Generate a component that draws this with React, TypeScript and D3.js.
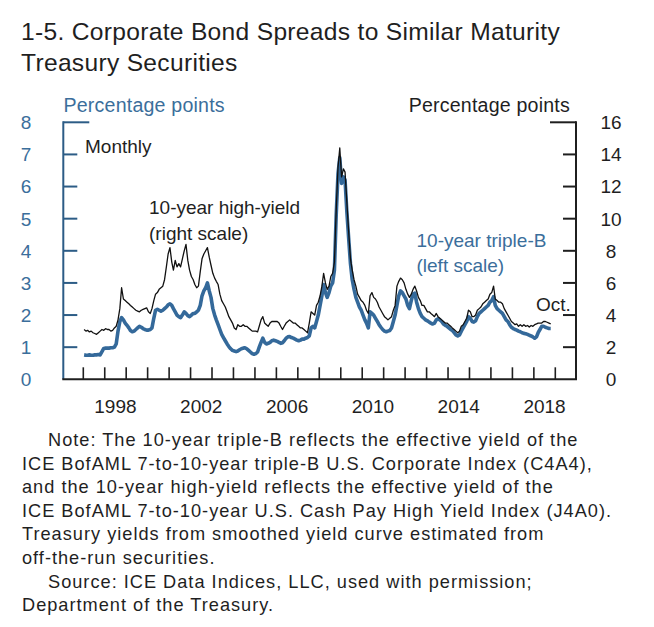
import React from "react";
import * as d3 from "d3";

// ---- data (monthly, Jan 1997 – Oct 2018) ----
const startYear = 1997;
const lastMonthIndex = 2018 * 12 + 9 - startYear * 12; // Oct 2018

// 10-year triple-B spread, percentage points (left scale)
const tripleB: number[] = [
  // 1997
  0.76, 0.75, 0.75, 0.76, 0.75, 0.75, 0.76, 0.76, 0.77, 0.76, 0.86, 0.96,
  // 1998
  0.97, 0.97, 0.97, 0.98, 0.98, 1.0, 1.1, 1.5, 1.8, 1.92, 1.85, 1.75,
  // 1999
  1.68, 1.6, 1.52, 1.48, 1.5, 1.55, 1.6, 1.65, 1.62, 1.58, 1.55, 1.53,
  // 2000
  1.53, 1.55, 1.6, 1.9, 2.15, 2.18, 2.15, 2.12, 2.15, 2.2, 2.25, 2.32,
  // 2001
  2.35, 2.3, 2.2, 2.1, 2.0, 1.95, 1.92, 2.0, 2.1, 2.05, 1.98, 1.95,
  // 2002
  2.0, 2.05, 2.05, 2.1, 2.15, 2.3, 2.6, 2.75, 2.85, 3.0, 2.75, 2.55,
  // 2003
  2.2, 2.0, 1.85, 1.7, 1.55, 1.4, 1.3, 1.2, 1.1, 1.02, 0.95, 0.9,
  // 2004
  0.88, 0.86, 0.88, 0.92, 0.95, 0.97, 0.98, 0.95, 0.9, 0.85, 0.8, 0.78,
  // 2005
  0.8, 0.85, 1.0, 1.15, 1.28, 1.15, 1.1, 1.12, 1.15, 1.2, 1.22, 1.2,
  // 2006
  1.18, 1.15, 1.12, 1.14, 1.2, 1.28, 1.32, 1.33, 1.3, 1.28, 1.25, 1.22,
  // 2007
  1.2, 1.22, 1.25, 1.25, 1.28, 1.3, 1.35, 1.6, 1.65, 1.6, 1.8, 2.0,
  // 2008
  2.3, 2.6, 2.95, 2.7, 2.55, 2.7, 2.9, 3.0, 3.4, 5.1, 6.4, 6.9,
  // 2009
  6.1, 6.3, 6.2, 5.2, 4.4, 3.6, 3.1, 2.8, 2.55, 2.4, 2.25, 2.15,
  // 2010
  2.0, 1.85, 1.75, 1.6, 2.1, 2.05, 2.0, 1.9, 1.8, 1.7, 1.62, 1.55,
  // 2011
  1.5, 1.48, 1.5, 1.52, 1.6, 1.8, 2.0, 2.3, 2.6, 2.75, 2.7, 2.6,
  // 2012
  2.5, 2.3, 2.2, 2.45, 2.65, 2.68, 2.4, 2.2, 2.05, 1.95, 1.9, 1.85,
  // 2013
  1.82, 1.78, 1.75, 1.72, 1.75, 1.85, 1.88, 1.85, 1.8, 1.72, 1.68, 1.65,
  // 2014
  1.6, 1.55, 1.52, 1.45, 1.38, 1.35, 1.38, 1.5, 1.6, 1.7, 1.8, 1.95,
  // 2015
  1.9, 1.8, 1.78, 1.82, 1.95, 2.05, 2.1, 2.15, 2.2, 2.25, 2.3, 2.4,
  // 2016
  2.45, 2.57, 2.3, 2.2, 2.15, 2.1, 2.05, 1.95, 1.85, 1.8, 1.7, 1.62,
  // 2017
  1.58, 1.55, 1.53, 1.5, 1.48, 1.45, 1.43, 1.42, 1.4, 1.37, 1.35, 1.32,
  // 2018
  1.28, 1.32, 1.45, 1.55, 1.65, 1.65, 1.62, 1.6, 1.58, 1.58,
];

// 10-year high-yield spread, percentage points (right scale)
const highYield: number[] = [
  // 1997
  3.1, 3.0, 3.05, 2.95, 3.0, 2.9, 2.85, 2.8, 2.9, 3.0, 3.1, 3.05,
  // 1998
  3.15, 3.1, 3.1, 3.0, 3.05, 3.2, 3.3, 3.7, 4.4, 5.7, 5.0, 4.9,
  // 1999
  4.8, 4.7, 4.6, 4.5, 4.4, 4.3, 4.25, 4.2, 4.3, 4.35, 4.4, 4.45,
  // 2000
  4.2, 4.1, 4.4, 4.9, 5.3, 5.4, 5.6, 5.7, 5.8, 6.2, 7.0, 7.8,
  // 2001
  8.2, 7.3, 6.8, 7.4, 7.0, 7.2, 7.0, 7.5, 8.0, 8.4, 7.4, 6.8,
  // 2002
  6.4, 6.2, 5.9, 5.7, 5.8, 6.7, 7.5, 7.8, 8.0, 8.2, 7.6, 7.1,
  // 2003
  6.6, 6.3, 6.1, 5.9, 5.3, 4.9, 4.7, 4.5, 4.2, 3.9, 3.7, 3.5,
  // 2004
  3.2, 3.1, 3.4, 3.3, 3.3, 3.4, 3.3, 3.3, 3.2, 3.1, 3.0, 3.0,
  // 2005
  3.0, 2.95, 3.3, 3.7, 3.9, 3.5, 3.4, 3.3, 3.5, 3.6, 3.6, 3.6,
  // 2006
  3.6, 3.5, 3.3, 3.1, 3.3, 3.5, 3.6, 3.7, 3.6, 3.5, 3.5, 3.4,
  // 2007
  3.3, 3.2, 3.2, 3.1, 3.0, 2.9, 3.5, 4.2, 4.1, 4.0, 4.6, 4.8,
  // 2008
  5.2, 5.8, 6.6, 6.0, 5.6, 5.8, 6.4, 6.6, 7.3, 10.5, 13.2, 14.4,
  // 2009
  12.6, 13.1, 12.9, 11.0, 9.2, 7.5, 6.8, 6.2, 5.8, 5.3, 5.1, 4.9,
  // 2010
  4.8, 4.6, 4.3, 4.1, 5.2, 5.4, 5.1, 5.0, 4.8, 4.5, 4.3, 4.1,
  // 2011
  3.9, 3.8, 3.7, 3.8, 3.9, 4.3, 4.6, 5.8, 6.1, 6.3, 6.2, 6.0,
  // 2012
  5.6, 5.3, 5.1, 5.3, 5.6, 5.8, 5.5, 5.1, 4.9, 4.6, 4.6, 4.4,
  // 2013
  4.2, 4.2, 4.1, 4.0, 3.9, 4.1, 3.9, 3.8, 3.7, 3.6, 3.5, 3.5,
  // 2014
  3.4, 3.3, 3.2, 3.1, 3.0, 2.9, 3.0, 3.3, 3.4, 3.6, 3.8, 4.3,
  // 2015
  4.2, 3.9, 3.9, 4.0, 4.3, 4.4, 4.5, 4.7, 4.8, 4.9, 5.0, 5.3,
  // 2016
  5.4, 5.8, 5.0, 4.9, 4.8, 4.8, 4.7, 4.4, 4.2, 4.0, 3.8, 3.6,
  // 2017
  3.5, 3.4, 3.45, 3.3, 3.4, 3.3, 3.4, 3.3, 3.35, 3.25, 3.35, 3.3,
  // 2018
  3.4, 3.45, 3.5, 3.5, 3.5, 3.6, 3.6, 3.55, 3.5, 3.45,
];

const leftTicks = [0, 1, 2, 3, 4, 5, 6, 7, 8];
const rightTicks = [0, 2, 4, 6, 8, 10, 12, 14, 16];
const yearLabels = [1998, 2002, 2006, 2010, 2014, 2018];

const titleLines = [
  "1-5. Corporate Bond Spreads to Similar Maturity",
  "Treasury Securities",
];
const noteLines: [string, boolean][] = [
  ["Note: The 10-year triple-B reflects the effective yield of the", true],
  ["ICE BofAML 7-to-10-year triple-B U.S. Corporate Index (C4A4),", false],
  ["and the 10-year high-yield reflects the effective yield of the", false],
  ["ICE BofAML 7-to-10-year U.S. Cash Pay High Yield Index (J4A0).", false],
  ["Treasury yields from smoothed yield curve estimated from", false],
  ["off-the-run securities.", false],
  ["Source: ICE Data Indices, LLC, used with permission;", true],
  ["Department of the Treasury.", false],
];

// ---- styling ----
const W = 654;
const H = 627;
const FONT = "'Liberation Sans', Arial, Helvetica, sans-serif";
const BLUE_LINE = "#34699a";
const BLUE_TEXT = "#3b6e9b";
const BLUE_AXIS = "#2c5c86";
const INK = "#1f1f1f";

const left = 63.3;
const right = 576;
const top = 122.3;
const bottom = 379.3;

export default function App() {
  const dates = d3.range(0, lastMonthIndex + 1).map(
    (i) => new Date(startYear + Math.floor(i / 12), i % 12, 15)
  );
  const x = d3
    .scaleTime()
    .domain([new Date(1997, 0, 1), new Date(2019, 0, 1)])
    .range([83.3, 555.3]);
  const yL = d3.scaleLinear().domain([0, 8]).range([bottom, top]);
  const yR = d3.scaleLinear().domain([0, 16]).range([bottom, top]);

  const lineL = d3
    .line<number>()
    .x((_, i) => x(dates[i]))
    .y((d) => yL(d))
    .curve(d3.curveLinear);
  const lineR = d3
    .line<number>()
    .x((_, i) => x(dates[i]))
    .y((d) => yR(d))
    .curve(d3.curveLinear);

  const yearTicks = d3.range(1997, 2020).map((yr) => new Date(yr, 0, 1));

  return (
    <div style={{ position: "absolute", left: 0, top: 0 }}>
      <svg width={W} height={H} style={{ display: "block", background: "#fff" }} fontFamily={FONT}>
        {/* title */}
        {titleLines.map((t, i) => (
          <text key={t} x={21} y={39.5 + i * 31.5} fontSize={24.6} fill={INK} letterSpacing={0.3}>
            {t}
          </text>
        ))}

        {/* axis titles */}
        <text x={63.5} y={111.5} fontSize={19.6} fill={BLUE_TEXT} letterSpacing={0.2}>
          Percentage points
        </text>
        <text x={570} y={111.5} fontSize={19.6} fill={INK} textAnchor="end" letterSpacing={0.2}>
          Percentage points
        </text>

        {/* left axis */}
        <line x1={left} x2={left} y1={top - 1} y2={bottom} stroke={BLUE_AXIS} strokeWidth={2} />
        {leftTicks.map((t) => (
          <g key={"l" + t}>
            {t > 0 && (
              <line
                x1={left}
                x2={left + (t === 8 ? 26 : 14)}
                y1={yL(t)}
                y2={yL(t)}
                stroke={BLUE_AXIS}
                strokeWidth={2}
              />
            )}
            <text x={26} y={yL(t)} dy="0.36em" fontSize={19} fill={BLUE_TEXT} textAnchor="middle">
              {t}
            </text>
          </g>
        ))}

        {/* right axis */}
        <line x1={right} x2={right} y1={top - 1} y2={bottom} stroke={INK} strokeWidth={2} />
        {rightTicks.map((t) => (
          <g key={"r" + t}>
            {t > 0 && (
              <line
                x1={right - (t === 16 ? 26 : 13)}
                x2={right}
                y1={yR(t)}
                y2={yR(t)}
                stroke={INK}
                strokeWidth={2}
              />
            )}
            <text x={611} y={yR(t)} dy="0.36em" fontSize={19} fill={INK} textAnchor="middle">
              {t}
            </text>
          </g>
        ))}

        {/* bottom axis */}
        <line x1={left - 1} x2={right + 1} y1={bottom} y2={bottom} stroke={INK} strokeWidth={2} />
        {yearTicks.map((d, i) => (
          <line key={"t" + i} x1={x(d)} x2={x(d)} y1={bottom} y2={bottom - 12} stroke={INK} strokeWidth={1.6} />
        ))}
        {yearLabels.map((yr) => (
          <text
            key={yr}
            x={x(new Date(yr, 6, 2))}
            y={412.5}
            fontSize={19}
            fill={INK}
            textAnchor="middle"
          >
            {yr}
          </text>
        ))}

        {/* series */}
        <path d={lineL(tripleB) || ""} fill="none" stroke={BLUE_LINE} strokeWidth={3.6} strokeLinejoin="round" />
        <path d={lineR(highYield) || ""} fill="none" stroke="#111" strokeWidth={1.3} strokeLinejoin="round" />

        {/* annotations */}
        <text x={85} y={153} fontSize={19} fill={INK}>Monthly</text>
        <text x={149} y={213.5} fontSize={19} fill={INK}>10-year high-yield</text>
        <text x={149} y={239.5} fontSize={19} fill={INK}>(right scale)</text>
        <text x={416.5} y={246.5} fontSize={19} fill={BLUE_TEXT}>10-year triple-B</text>
        <text x={416.5} y={271.5} fontSize={19} fill={BLUE_TEXT}>(left scale)</text>
        <text x={536} y={310.5} fontSize={19} fill={INK}>Oct.</text>

        {/* notes */}
        {noteLines.map(([t, indent], i) => (
          <text
            key={i}
            x={indent ? 48 : 22}
            y={446 + i * 23.6}
            fontSize={18.2}
            fill={INK}
            letterSpacing={1.0}
          >
            {t}
          </text>
        ))}
      </svg>
    </div>
  );
}
